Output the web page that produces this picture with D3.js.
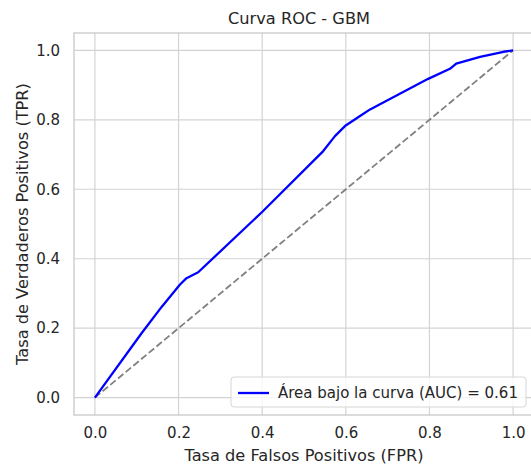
<!DOCTYPE html>
<html>
<head>
<meta charset="utf-8">
<script src="https://cdn.jsdelivr.net/npm/d3@7"></script>
<style>
  body { margin: 0; background: #fff; }
  text { font-family: "DejaVu Sans", sans-serif; fill: #262626; }
</style>
</head>
<body>
<svg id="chart" width="531" height="466"></svg>
<script>
// Data
const fpr = [0, 0.112, 0.160, 0.203, 0.219, 0.247, 0.401, 0.546, 0.574, 0.598, 0.634, 0.658, 0.797, 0.849, 0.864, 0.921, 0.977, 1];
const tpr = [0, 0.186, 0.262, 0.325, 0.344, 0.361, 0.536, 0.710, 0.753, 0.782, 0.811, 0.830, 0.918, 0.947, 0.962, 0.981, 0.996, 1];
const diagonal = [0, 1];
const ticks = [0, 0.2, 0.4, 0.6, 0.8, 1.0];
const auc = 0.61;

const titulo = "Curva ROC - GBM";
const xLabel = "Tasa de Falsos Positivos (FPR)";
const yLabel = "Tasa de Verdaderos Positivos (TPR)";

// plot box (the right edge is cut off by the picture, like in the original)
const plotLeft = 74, plotRight = 534, plotTop = 33, plotBottom = 415;

const x = d3.scaleLinear().domain([-0.05, 1.05]).range([plotLeft, plotRight]);
const y = d3.scaleLinear().domain([-0.05, 1.05]).range([plotBottom, plotTop]);

const svg = d3.select("#chart");

// grid
const grid = svg.append("g");
grid.selectAll(".gx")
    .data(ticks)
    .enter()
    .append("line")
    .attr("x1", d => x(d)).attr("x2", d => x(d))
    .attr("y1", plotTop).attr("y2", plotBottom)
    .attr("stroke", "#d3d3d3")
    .attr("stroke-width", 1.2);
grid.selectAll(".gy")
    .data(ticks)
    .enter()
    .append("line")
    .attr("x1", plotLeft).attr("x2", plotRight)
    .attr("y1", d => y(d)).attr("y2", d => y(d))
    .attr("stroke", "#d3d3d3")
    .attr("stroke-width", 1.2);

// frame
svg.append("rect")
    .attr("x", plotLeft).attr("y", plotTop)
    .attr("width", plotRight - plotLeft).attr("height", plotBottom - plotTop)
    .attr("fill", "none")
    .attr("stroke", "#cccccc")
    .attr("stroke-width", 1.4);

// tick labels
svg.append("g")
    .attr("transform", `translate(0, ${plotBottom})`)
    .call(d3.axisBottom(x).tickValues(ticks).tickFormat(d3.format(".1f")).tickSize(0).tickPadding(12))
    .call(g => g.select(".domain").remove())
    .selectAll("text")
    .style("font-size", "15px")
    .attr("fill", "#333333");

svg.append("g")
    .attr("transform", `translate(${plotLeft}, 0)`)
    .call(d3.axisLeft(y).tickValues(ticks).tickFormat(d3.format(".1f")).tickSize(0).tickPadding(14))
    .call(g => g.select(".domain").remove())
    .selectAll("text")
    .style("font-size", "15px")
    .attr("fill", "#333333");

// diagonal reference
svg.append("line")
    .attr("x1", x(diagonal[0])).attr("y1", y(diagonal[0]))
    .attr("x2", x(diagonal[1])).attr("y2", y(diagonal[1]))
    .attr("stroke", "#808080")
    .attr("stroke-width", 1.8)
    .attr("stroke-dasharray", "7,3");

// ROC curve
const line = d3.line()
    .x(d => x(d[0]))
    .y(d => y(d[1]));

svg.append("path")
    .datum(fpr.map((f, i) => [f, tpr[i]]))
    .attr("d", line)
    .attr("fill", "none")
    .attr("stroke", "#0000ff")
    .attr("stroke-width", 2.3)
    .attr("stroke-linejoin", "round");

// titles
svg.append("text")
    .attr("x", 299).attr("y", 24)
    .attr("text-anchor", "middle")
    .style("font-size", "16.2px")
    .attr("fill", "#333333")
    .text(titulo);

svg.append("text")
    .attr("x", 304).attr("y", 461)
    .attr("text-anchor", "middle")
    .style("font-size", "16.2px")
    .attr("fill", "#333333")
    .text(xLabel);

svg.append("text")
    .attr("transform", `translate(28, ${(plotTop + plotBottom) / 2}) rotate(-90)`)
    .attr("text-anchor", "middle")
    .style("font-size", "16.2px")
    .attr("fill", "#333333")
    .text(yLabel);

// legend
const legend = svg.append("g").attr("transform", "translate(231, 377)");
legend.append("rect")
    .attr("width", 295).attr("height", 30)
    .attr("rx", 3)
    .attr("fill", "white").attr("fill-opacity", 0.8)
    .attr("stroke", "#d6d6d6");
legend.append("line")
    .attr("x1", 7).attr("x2", 38)
    .attr("y1", 16).attr("y2", 16)
    .attr("stroke", "#0000ff")
    .attr("stroke-width", 2.3);
legend.append("text")
    .attr("x", 47).attr("y", 21)
    .style("font-size", "15px")
    .attr("fill", "#333333")
    .text(`Área bajo la curva (AUC) = ${auc.toFixed(2)}`);
</script>
</body>
</html>
